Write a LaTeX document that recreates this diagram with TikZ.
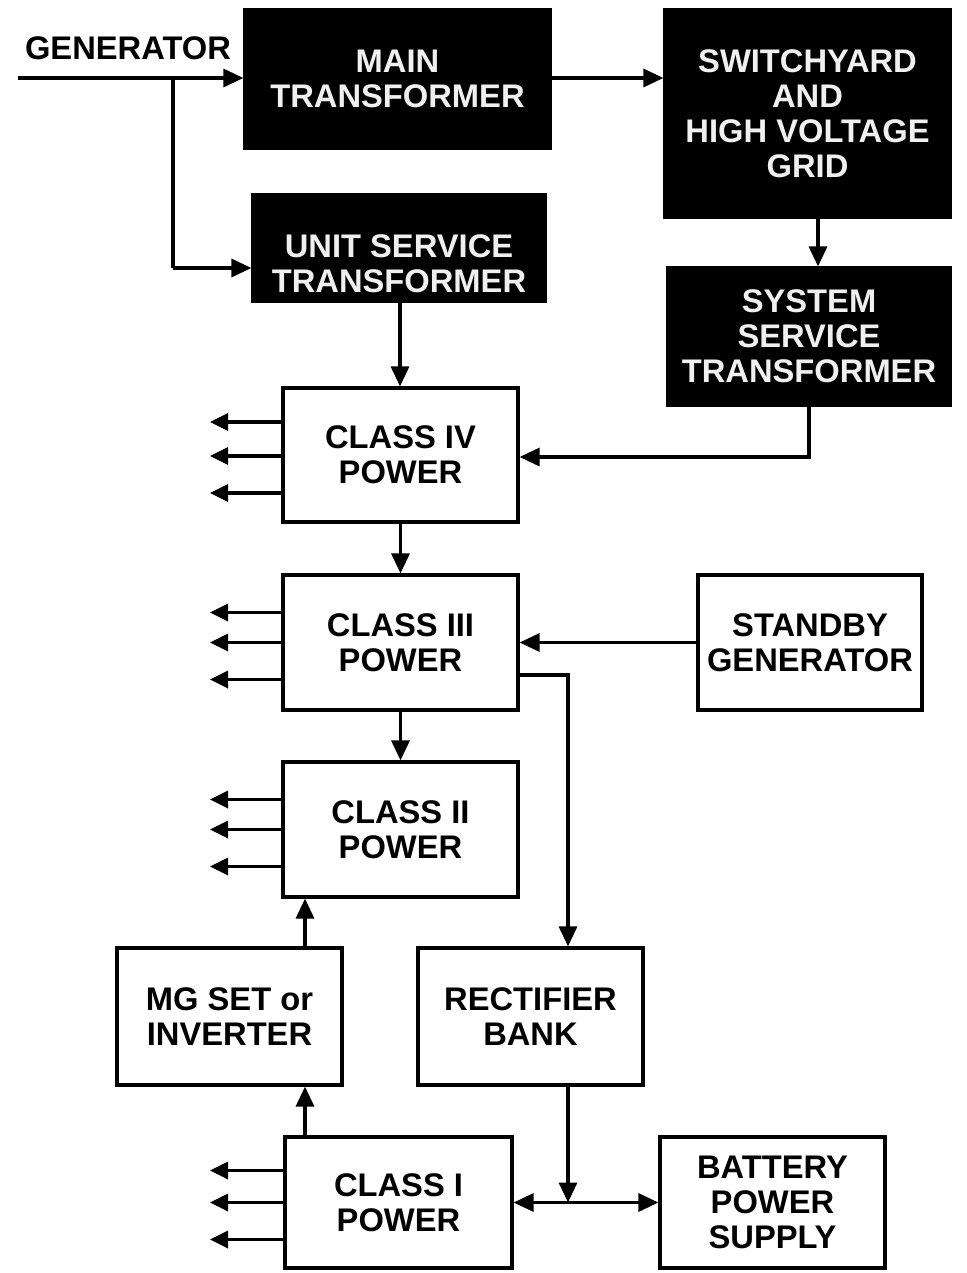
\documentclass[tikz,border=0pt]{standalone}
\usepackage{fontspec}
\setmainfont{Liberation Sans}
\usetikzlibrary{arrows.meta}
\begin{document}
\begin{tikzpicture}[x=1pt,y=-1pt,
  txt/.style={font=\bfseries\fontsize{32.7}{35}\selectfont, align=center, inner sep=0pt},
  box/.style={draw, line width=3.2pt, txt, fill=white},
  dark/.style={draw, line width=3.2pt, fill=black, text=gray!12, txt},
  arr/.style={line width=3.4pt, -{Triangle[length=20pt,width=18pt]}},
  arrthin/.style={line width=3.4pt, -{Triangle[length=20pt,width=18pt]}},
  loadarr/.style={line width=3.4pt, -{Triangle[length=18pt,width=17pt]}}
]
\useasboundingbox (0,0) rectangle (966,1273);

% dark boxes
\node[dark, minimum width=305pt, minimum height=138pt] (main) at (397.5,79) {MAIN\\TRANSFORMER};
\node[dark, minimum width=285pt, minimum height=207pt] (switch) at (807.5,113.5) {SWITCHYARD\\AND\\HIGH VOLTAGE\\GRID};
\node[dark, minimum width=292pt, minimum height=107pt] (unit) at (399,248) {};
\node[txt, text=gray!12] (unittxt) at (399,264) {UNIT SERVICE\\TRANSFORMER};
\node[dark, minimum width=282pt, minimum height=137pt] (sys) at (809,336.5) {SYSTEM\\SERVICE\\TRANSFORMER};

% white boxes
\node[box, minimum width=235pt, minimum height=134pt] (c4) at (400.5,455) {CLASS IV\\POWER};
\node[box, minimum width=235pt, minimum height=135pt] (c3) at (400.5,642.5) {CLASS III\\POWER};
\node[box, minimum width=224pt, minimum height=135pt] (stb) at (810,642.5) {STANDBY\\GENERATOR};
\node[box, minimum width=235pt, minimum height=135pt] (c2) at (400.5,829.5) {CLASS II\\POWER};
\node[box, minimum width=225pt, minimum height=137pt] (mg) at (229.5,1016.5) {MG SET or\\INVERTER};
\node[box, minimum width=225pt, minimum height=137pt] (rect) at (530.5,1016.5) {RECTIFIER\\BANK};
\node[box, minimum width=227pt, minimum height=131pt] (c1) at (398.5,1202.5) {CLASS I\\POWER};
\node[box, minimum width=225pt, minimum height=131pt] (bat) at (772.5,1202.5) {BATTERY\\POWER\\SUPPLY};

% generator
\node[txt] (gen) at (128,48) {GENERATOR};
\coordinate (g0) at (18,78);
\coordinate (gb) at (173,78);
\coordinate (ub) at (173,268);
\coordinate (lw) at (210,0);
\draw[arr] (g0) -- (g0 -| main.west);
\draw[line width=3.4pt] (gb) -- (ub);
\draw[arr] (ub) -- (ub -| unit.west);

% top connections
\draw[arr] (main.east |- g0) -- (g0 -| switch.west);
\draw[arr] ([xshift=10.5pt]switch.south) -- ([xshift=10.5pt]switch.south |- sys.north);
\draw[arrthin] (sys.south) |- ([yshift=-2pt]c4.east);
\draw[arr] ([xshift=1pt]unit.south) -- ([xshift=1pt]unit.south |- c4.north);

% vertical chain
\draw[arr] (c4.south) -- (c3.north);
\draw[arr] (c3.south) -- (c2.north);
\draw[arr] (stb.west) -- (c3.east);
\coordinate (r1) at ([xshift=37.5pt]rect.north);
\draw[arrthin] ([yshift=-32.5pt]c3.east) -| (r1);
\draw[arr] ([xshift=75.5pt]mg.north) -- ([xshift=75.5pt]mg.north |- c2.south);
\draw[arr] ([xshift=-93.5pt]c1.north) -- ([xshift=-93.5pt]c1.north |- mg.south);
\coordinate (r2) at ([xshift=37.5pt]rect.south);
\coordinate (jn) at (r2 |- c1.east);
\draw[arrthin] (r2) -- (jn);
\draw[line width=3.4pt, {Triangle[length=20pt,width=18pt]}-{Triangle[length=20pt,width=18pt]}] (c1.east) -- (bat.west);

% outgoing loads
\foreach \n/\a/\b/\c in {c4/33/-1/-38, c3/30/0/-37, c2/30/0/-37, c1/32/0/-37}{
  \foreach \d in {\a,\b,\c}{
    \draw[loadarr] ([yshift=\d pt]\n.west) -- ([yshift=\d pt]\n.west -| lw);
  }
}
\end{tikzpicture}
\end{document}
